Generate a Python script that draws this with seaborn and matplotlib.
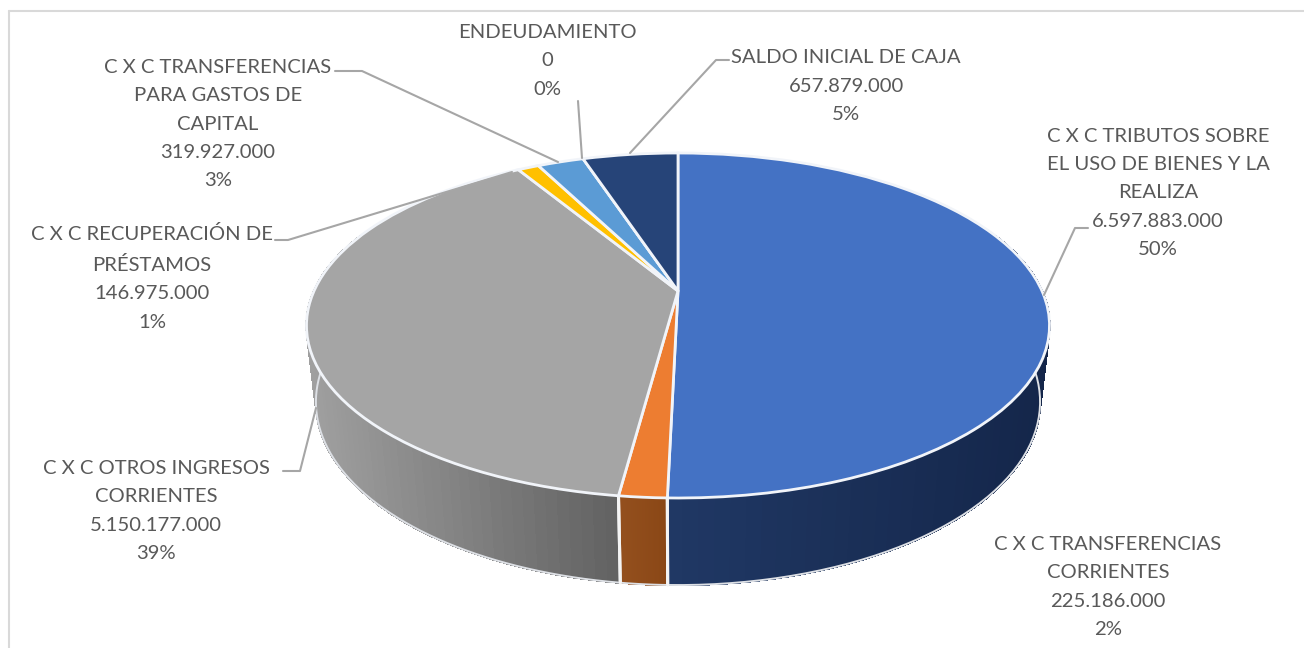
import numpy as np
import matplotlib
matplotlib.use('Agg')
import matplotlib.pyplot as plt
from matplotlib.collections import PolyCollection
from matplotlib.colors import to_rgb
from matplotlib.transforms import Transform
import seaborn as sns

# Datos del gráfico
categorias = ['C X C TRIBUTOS SOBRE\nEL USO DE BIENES Y LA\nREALIZA',
              'C X C TRANSFERENCIAS\nCORRIENTES',
              'C X C OTROS INGRESOS\nCORRIENTES',
              'C X C RECUPERACIÓN DE\nPRÉSTAMOS',
              'C X C TRANSFERENCIAS\nPARA GASTOS DE\nCAPITAL',
              'ENDEUDAMIENTO',
              'SALDO INICIAL DE CAJA']
valores = [6597883000, 225186000, 5150177000, 146975000, 319927000, 0, 657879000]
valores_txt = ['6.597.883.000', '225.186.000', '5.150.177.000', '146.975.000',
               '319.927.000', '0', '657.879.000']
porcentajes = ['50%', '2%', '39%', '1%', '3%', '0%', '5%']

colores = ['#4472C4', '#ED7D31', '#A5A5A5', '#FFC000', '#5B9BD5', '#70AD47', '#264478']
# pared lateral: color a la izquierda y a la derecha de la pantalla
pared_izq = ['#203864', '#94501E', '#A0A0A0', '#8F6C00', '#3A6A98', '#3F6A28', '#16294A']
pared_der = ['#14264A', '#8A4716', '#606060', '#7F5F00', '#2E5A85', '#38602A', '#16294A']

# posiciones de las etiquetas (centro x, centro y) en pixeles
pos_etiquetas = [(1158, 193), (1108, 587), (156, 511), (152, 278), (218, 124), (547, 61), (846, 86)]
guias = [[(1088, 228), (1075, 228), (1044, 295)],
         [(283, 471), (300, 471), (316, 408)],
         [(275, 240), (288, 240), (512, 172)],
         [(335, 71), (362, 71), (558, 162)],
         [(578, 101), (582, 158)],
         [(729, 60), (716, 60), (630, 153)]]

sns.set_theme(style='white')
plt.rcParams['font.family'] = ['Lato', 'DejaVu Sans']
paleta = sns.color_palette(colores)


class Perspectiva(Transform):
    # lleva el círculo unidad de la torta a pixeles, con la perspectiva del 3D
    input_dims = 2
    output_dims = 2

    def __init__(self, z=0.0):
        super().__init__()
        self.z = z

    def transform_non_affine(self, xy):
        xy = np.asarray(xy, dtype=float)
        w = 1 + 0.2 * xy[:, 1] + 0.025 * self.z
        sx = 678 + 364 * xy[:, 0] / w
        sy = 291 - (165.6 * xy[:, 1] - 77 * self.z) / w
        return np.column_stack([sx, sy])


fig = plt.figure(figsize=(13.04, 6.48), dpi=100)
ax = fig.add_axes([0, 0, 1, 1])

wedges, _ = ax.pie(valores, colors=paleta, startangle=90, counterclock=False, radius=1,
                   wedgeprops={'edgecolor': '#F1F4F9', 'linewidth': 2.0})
ax.set_aspect('auto')
ax.set_xlim(0, 1304)
ax.set_ylim(648, 0)
ax.axis('off')

arriba = Perspectiva(0.0) + ax.transData

for i, w in enumerate(wedges):
    w.set_transform(arriba)
    w.set_clip_on(False)
    w.set_zorder(3)

    if w.theta1 == w.theta2:
        continue
    # pared lateral en tiras angostas para el degradado
    t = np.radians(np.linspace(w.theta1, w.theta2, 90))
    ux, uy = np.cos(t), np.sin(t)
    pts0 = Perspectiva(0.0).transform_non_affine(np.column_stack([ux, uy]))
    pts1 = Perspectiva(1.0).transform_non_affine(np.column_stack([ux, uy]))
    tiras, tonos = [], []
    c0, c1 = np.array(to_rgb(pared_izq[i])), np.array(to_rgb(pared_der[i]))
    x_min, x_max = pts0[:, 0].min(), pts0[:, 0].max()
    for k in range(len(t) - 1):
        if uy[k] > 0.35 and uy[k + 1] > 0.35:
            continue
        tiras.append([pts0[k], pts0[k + 1], pts1[k + 1], pts1[k]])
        f = (pts0[k, 0] - x_min) / max(x_max - x_min, 1)
        tonos.append(c0 + (c1 - c0) * f)
    if tiras:
        ax.add_collection(PolyCollection(tiras, facecolors=tonos, edgecolors=tonos,
                                         linewidths=1.0, antialiased=False, zorder=1))
        # filos claros de la pared
        vis = uy < 0.35
        ax.plot(pts1[vis, 0], pts1[vis, 1], color='#DDE0E5', lw=1.4, zorder=2)
        for p, q, u in [(pts0[0], pts1[0], uy[0]), (pts0[-1], pts1[-1], uy[-1])]:
            if u < -0.9:
                ax.plot([p[0], q[0]], [p[1], q[1]], color='#F4F4F4', lw=2.2, zorder=2)

# marco del gráfico
ax.plot([9, 9], [648, 11], color='#D9D9D9', lw=1.5, zorder=0)
ax.plot([9, 1304], [11, 11], color='#D9D9D9', lw=1.5, zorder=0)

for tramo in guias:
    xs, ys = zip(*tramo)
    ax.plot(xs, ys, color='#A6A6A6', lw=1.5, zorder=4)

for nombre, valor, pct, (x, y) in zip(categorias, valores_txt, porcentajes, pos_etiquetas):
    ax.text(x, y, f'{nombre}\n{valor}\n{pct}', ha='center', va='center', fontsize=14.6,
            color='#595959', linespacing=1.82, zorder=5)

fig.savefig('out.png', dpi=100)
